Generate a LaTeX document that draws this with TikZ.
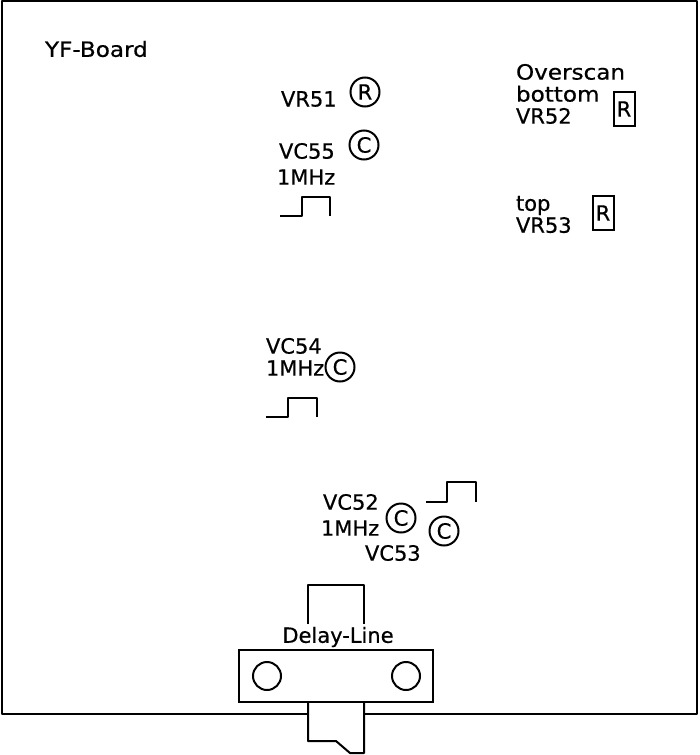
\documentclass[tikz,border=0pt]{standalone}
\usepackage{fontspec}
\setmainfont[FakeBold=0.6]{DejaVu Sans}
\newfontfamily\widefont[FakeStretch=1.1,FakeBold=0.6]{DejaVu Sans}
\begin{document}
\begin{tikzpicture}[x=1pt,y=-1pt,
  line/.style={draw=black,line width=2pt,line join=round},
  label/.style={inner sep=0,outer sep=0,anchor=west,align=left,
    font=\fontsize{21}{22}\selectfont},
  trim/.style={circle,draw=black,line width=2pt,inner sep=0,
    minimum size=29pt,font=\fontsize{21}{21}\selectfont},
  preset/.style={rectangle,draw=black,line width=2pt,inner sep=0,
    minimum width=21pt,minimum height=34pt,font=\fontsize{21}{21}\selectfont},
  hole/.style={circle,draw=black,line width=2pt,inner sep=0,minimum size=28pt}]
  \useasboundingbox (0,0) rectangle (699,755);
  % board outline
  \draw[line,line width=1.5pt] (308,714) -- (2,714) -- (2,1) -- (697,1) -- (697,714) -- (364,714);
  \node[label] (board) at (45,49) {\widefont YF-Board};
  % upper group
  \node[label] (vr51) at (281,99) {VR51};
  \node[trim] (r51) at (365,92) {R};
  \node[label] (vc55) at (279,151) {VC55};
  \node[trim] (c55) at (364,145) {C};
  \node[label] (mhz55) at (277,177) {1MHz};
  \draw[line] (280,216) -- (302,216) -- (302,197) -- (330,197) -- (330,216);
  % overscan
  \node[label,anchor=north west] (over) at (516,64) {\widefont Overscan\\\widefont bottom\\VR52};
  \node[preset] (r52) at (624,109) {R};
  \node[label,anchor=north west] (top) at (516,196) {top\\VR53};
  \node[preset] (r53) at (603,213) {R};
  % middle group
  \node[label,anchor=north west] (vc54) at (266,338) {VC54\\1MHz};
  \node[trim] (c54) at (340,367) {C};
  \draw[line] (266,417) -- (288,417) -- (288,398) -- (317,398) -- (317,417);
  % lower group
  \node[label] (vc52) at (323,502) {VC52};
  \node[label] (mhz52) at (321,528) {1MHz};
  \node[label] (vc53) at (365,553) {VC53};
  \node[trim] (c52) at (401,518) {C};
  \node[trim] (c53) at (444,531) {C};
  \draw[line] (426,502) -- (447,502) -- (447,482) -- (476,482) -- (476,502);
  % delay line
  \draw[line] (308,624) -- (308,585) -- (364,585) -- (364,624);
  \node[label,anchor=center] (delay) at (338,637) {Delay-Line};
  \node[rectangle,draw=black,line width=2pt,minimum width=194pt,minimum height=52pt,inner sep=0] (body) at (336,676) {};
  \node[hole] (hole1) at (267,676) {};
  \node[hole] (hole2) at (406,676) {};
  \draw[line] (308,702) -- (308,741) -- (336,741) -- (350,753) -- (364,753) -- (364,702);
\end{tikzpicture}
\end{document}
